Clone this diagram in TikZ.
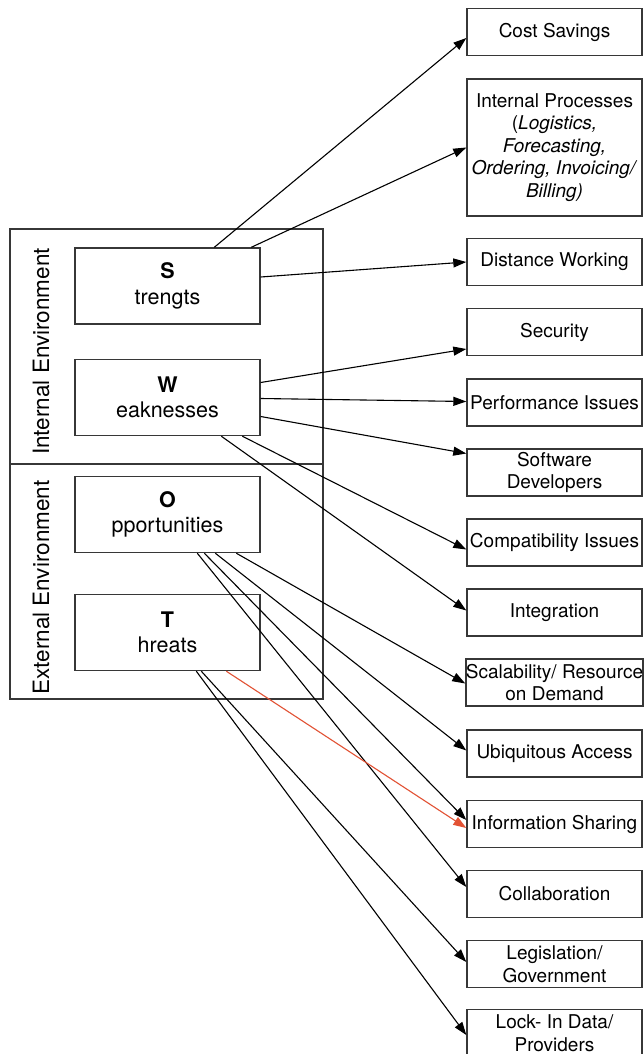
\documentclass[tikz,border=0pt]{standalone}
\usepackage{xcolor}
\usepackage{fontspec}
\setmainfont{TeX Gyre Heros}
\usetikzlibrary{arrows.meta, calc}
\definecolor{threatred}{RGB}{226,82,52}
\definecolor{boxline}{RGB}{55,55,55}

\begin{document}
\begin{tikzpicture}[x=1pt, y=-1pt, >={Triangle[length=13pt, width=9pt]}, line width=1.1pt,
  every node/.style={font=\fontsize{19}{22.5}\selectfont},
  envbox/.style={draw=boxline, line width=1.4pt, minimum width=313pt, inner sep=0pt},
  envlabel/.style={rotate=90, inner sep=0pt, font=\fontsize{22.5}{26}\selectfont},
  swotbox/.style={draw=boxline, line width=1.4pt, align=center, minimum width=185pt, minimum height=76pt, inner sep=0pt, font=\fontsize{21.5}{25.5}\selectfont},
  impact/.style={draw=boxline, line width=1.4pt, align=center, minimum width=175pt, minimum height=47pt, inner sep=0pt}]
  \useasboundingbox (0,0) rectangle (643,1054);
  \fill[white] (0,0) rectangle (643,1054);

  % environments
  \node[envbox, minimum height=235pt] (internal) at (166.5,346.5) {};
  \node[envbox, minimum height=235pt] (external) at (166.5,581.5) {};
  \node[envlabel] (internallbl) at (41,351.5) {Internal Environment};
  \node[envlabel] (externallbl) at (41,587.5) {External Environment};

  % swot
  \node[swotbox] (strengths) at (167.5,286) {\textbf{S}\\trengts};
  \node[swotbox] (weaknesses) at (167.5,397.5) {\textbf{W}\\eaknesses};
  \node[swotbox] (opportunities) at (167.5,514.5) {\textbf{O}\\pportunities};
  \node[swotbox] (threats) at (167.5,632.5) {\textbf{T}\\hreats};

  % factors
  \node[impact] (cost) at (554.5,32) {Cost Savings};
  \node[impact, minimum height=137pt] (processes) at (554.5,147.5) {Internal Processes\\(\textit{Logistics,}\\\textit{Forecasting,}\\\textit{Ordering, Invoicing/}\\\textit{Billing)}};
  \node[impact] (distance) at (554.5,262) {Distance Working};
  \node[impact] (security) at (554.5,332) {Security};
  \node[impact] (performance) at (554.5,402.5) {Performance Issues};
  \node[impact] (developers) at (554.5,472.5) {Software\\Developers};
  \node[impact] (compatibility) at (554.5,542.5) {Compatibility Issues};
  \node[impact] (integration) at (554.5,612.5) {Integration};
  \node[impact] (scalability) at (554.5,682.5) {Scalability/ Resource\\on Demand};
  \node[impact] (ubiquitous) at (554.5,753.5) {Ubiquitous Access};
  \node[impact] (sharing) at (554.5,824) {Information Sharing};
  \node[impact] (collaboration) at (554.5,894) {Collaboration};
  \node[impact] (legislation) at (554.5,964) {Legislation/\\Government};
  \node[impact] (lockin) at (554.5,1033) {Lock- In Data/\\Providers};

  % strengths
  \draw[->] ($(strengths.north west)+(140,0)$) -- ($(cost.west)+(0,6)$);
  \draw[->] ($(strengths.north west)+(177,0)$) -- (processes.west);
  \draw[->] ($(strengths.east)+(0,-9)$) -- (distance.west);
  % weaknesses
  \draw[->] ($(weaknesses.east)+(0,-15)$) -- ($(security.west)+(0,17)$);
  \draw[->] ($(weaknesses.east)+(0,1)$) -- ($(performance.west)+(0,-1)$);
  \draw[->] ($(weaknesses.east)+(0,19)$) -- ($(developers.west)+(0,-19)$);
  \draw[->] ($(weaknesses.south west)+(168,0)$) -- ($(compatibility.west)+(0,7)$);
  \draw[->] ($(weaknesses.south west)+(147,0)$) -- ($(integration.west)+(0,-2)$);
  % opportunities
  \draw[->] ($(opportunities.south west)+(162,0)$) -- ($(scalability.west)+(0,1)$);
  \draw[->] ($(opportunities.south west)+(141,0)$) -- ($(ubiquitous.west)+(0,-3)$);
  \draw[->] ($(opportunities.south west)+(130,0)$) -- ($(sharing.west)+(0,-4)$);
  \draw[->] ($(opportunities.south west)+(123,0)$) -- ($(collaboration.west)+(0,-7)$);
  % threats
  \draw[->, threatred] ($(threats.south west)+(152,0)$) -- ($(sharing.west)+(0,4)$);
  \draw[->] ($(threats.south west)+(127,0)$) -- ($(legislation.west)+(0,-2)$);
  \draw[->] ($(threats.south west)+(122,0)$) -- ($(lockin.west)+(0,2)$);
\end{tikzpicture}
\end{document}
